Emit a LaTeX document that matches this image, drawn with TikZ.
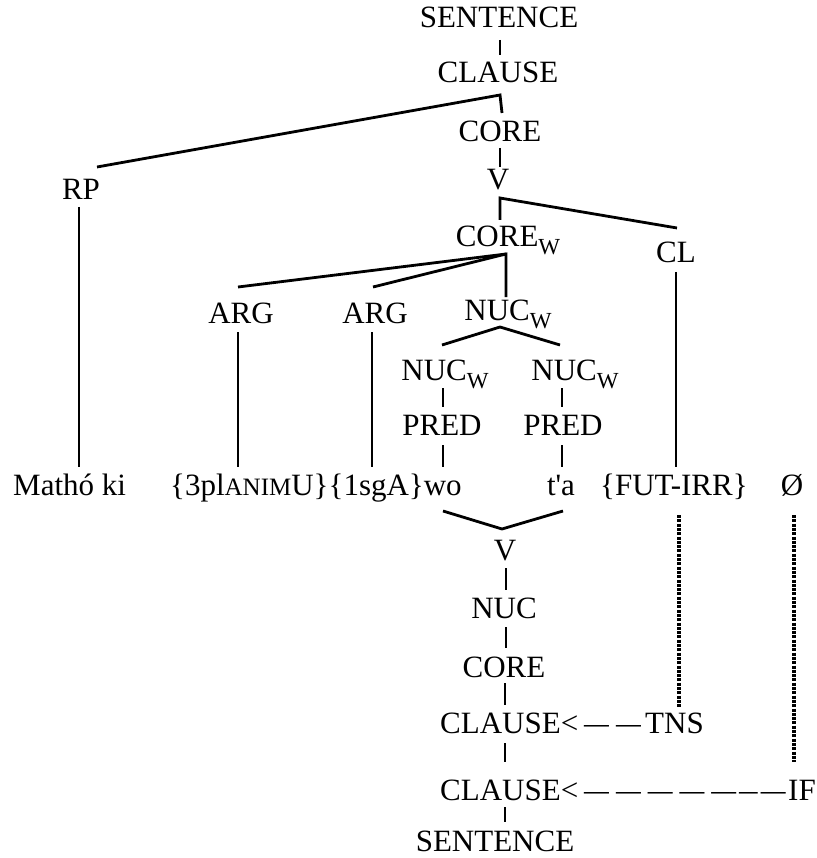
\documentclass[tikz,border=0pt]{standalone}
\usepackage{fontspec}
\setmainfont{Liberation Serif}
\newcommand\sbw{\raisebox{-8pt}{\fontsize{23}{23}\selectfont W}}
\newcommand\dsh{\scalebox{0.8}[1]{—}}
\begin{document}
\begin{tikzpicture}[x=1pt,y=-1pt,
  lbl/.style={inner sep=0pt,anchor=base,font=\fontsize{31}{36}\selectfont},
  lblw/.style={lbl,anchor=base west},
  br/.style={line width=2.8pt},
  dots/.style={line width=3.6pt,dash pattern=on 3pt off 1.3pt}]
\useasboundingbox (0,0) rectangle (816,858);
% upper tree
\node[lbl] (s1) at (499,28) {SENTENCE};
\node[lbl] (cl1) at (498,83) {CLAUSE};
\node[lbl] (core1) at (500,142) {CORE};
\node[lbl] (v1) at (498,190) {V};
\node[lbl] (corew) at (508,247) {CORE\sbw};
\node[lbl] (cln) at (676,263) {CL};
\node[lbl] (rp) at (81,200) {RP};
\node[lbl] (arg1) at (241,323) {ARG};
\node[lbl] (arg2) at (375,323) {ARG};
\node[lbl] (nucw) at (508,320) {NUC\sbw};
\node[lbl] (nucwl) at (445,380) {NUC\sbw};
\node[lbl] (nucwr) at (575,380) {NUC\sbw};
\node[lbl] (predl) at (442,435) {PRED};
\node[lbl] (predr) at (563,435) {PRED};
% words
\node[lblw] (matho) at (13,495) {Mathó ki};
\node[lblw] (args) at (170,495) {\{3pl{\fontsize{25}{25}\selectfont ANIM}U\}\{1sgA\}wo};
\node[lbl] (ta) at (561,495) {t\textquotesingle a};
\node[lblw] (fut) at (600,495) {\{FUT-IRR\}};
\node[lbl] (empty) at (792,495) {Ø};
% lower tree
\node[lbl] (v2) at (505,560) {V};
\node[lbl] (nuc2) at (504,618) {NUC};
\node[lbl] (core2) at (504,677) {CORE};
\node[lblw] (cl2) at (440,733) {CLAUSE<};
\node[lblw] (d2) at (584,733) {\dsh\hspace{7pt}\dsh};
\node[lblw] (tns) at (645,733) {TNS};
\node[lblw] (cl3) at (440,800) {CLAUSE<};
\node[lblw] (d3) at (584,800) {\dsh\hspace{7pt}\dsh\hspace{7pt}\dsh\hspace{7pt}\dsh\hspace{7pt}\dsh\hspace{3pt}\scalebox{0.6}[1]{—}\hspace{3pt}\dsh};
\node[lblw] (iff) at (788,800) {IF};
\node[lbl] (s2) at (495,851) {SENTENCE};
% branches
\draw[br] ([shift={(1,12)}]s1.base) -- ([shift={(2,-28)}]cl1.base);
\draw[br] ([shift={(16,-33)}]rp.base) -- ([shift={(2,12)}]cl1.base) -- ([shift={(2,-29)}]core1.base);
\draw[br] ([shift={(0,6)}]core1.base) -- ([shift={(2,-23)}]v1.base);
\draw[br] ([shift={(1,-35)}]cln.base) -- ([shift={(2,8)}]v1.base) -- ([shift={(-8,-27)}]corew.base);
\draw[br] ([shift={(-3,-36)}]arg1.base) -- ([shift={(-2,7)}]corew.base) -- ([shift={(-2,-23)}]nucw.base);
\draw[br] ([shift={(-2,-36)}]arg2.base) -- ([shift={(-2,7)}]corew.base);
\draw[br] ([shift={(-3,-35)}]nucwl.base) -- ([shift={(-8,7)}]nucw.base) -- ([shift={(-15,-35)}]nucwr.base);
\draw[br] ([shift={(-2,8)}]nucwl.base) -- ([shift={(1,-28)}]predl.base);
\draw[br] ([shift={(-13,8)}]nucwr.base) -- ([shift={(-1,-28)}]predr.base);
\draw[br] ([shift={(1,10)}]predl.base) -- ([shift={(273,-28)}]args.base west);
\draw[br] ([shift={(-1,10)}]predr.base) -- ([shift={(1,-28)}]ta.base);
\draw[br] ([shift={(-2,7)}]rp.base) -- ([shift={(66,-28)}]matho.base west);
\draw[br] ([shift={(-3,9)}]arg1.base) -- ([shift={(68,-28)}]args.base west);
\draw[br] ([shift={(-3,9)}]arg2.base) -- ([shift={(202,-28)}]args.base west);
\draw[br] ([shift={(0,9)}]cln.base) -- ([shift={(76,-28)}]fut.base west);
\draw[br] ([shift={(273,16)}]args.base west) -- ([shift={(-3,-31)}]v2.base) -- ([shift={(2,16)}]ta.base);
\draw[br] ([shift={(1,8)}]v2.base) -- ([shift={(2,-28)}]nuc2.base);
\draw[br] ([shift={(2,9)}]nuc2.base) -- ([shift={(2,-29)}]core2.base);
\draw[br] ([shift={(1,6)}]core2.base) -- ([shift={(65,-28)}]cl2.base west);
\draw[br] ([shift={(65,10)}]cl2.base west) -- ([shift={(65,-38)}]cl3.base west);
\draw[br] ([shift={(65,7)}]cl3.base west) -- ([shift={(10,-29)}]s2.base);
% dotted links
\draw[dots] ([shift={(79,20)}]fut.base west) -- ([shift={(34,-25)}]tns.base west);
\draw[dots] ([shift={(2,20)}]empty.base) -- ([shift={(6,-38)}]iff.base west);
\end{tikzpicture}
\end{document}
